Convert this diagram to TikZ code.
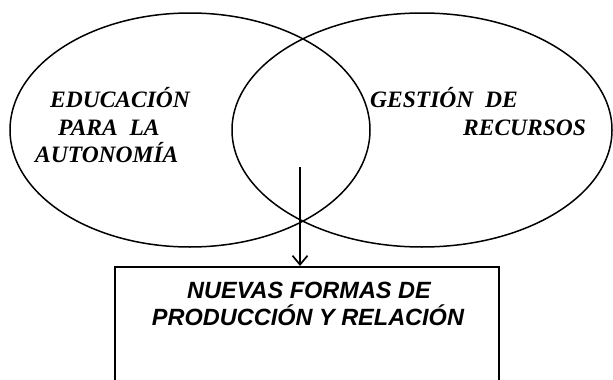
\documentclass[tikz,border=0pt]{standalone}
\usepackage{fontspec}
\usepackage{tikz}
\usetikzlibrary{shapes.geometric, arrows.meta}
\newfontfamily\serifbi{Liberation Serif}
\newfontfamily\sansbi{Liberation Sans}

\begin{document}
\begin{tikzpicture}[
  x=1pt, y=-1pt,
  setellipse/.style={draw, ellipse, line width=1.5pt, inner sep=0pt},
  setlabel/.style={anchor=base west, inner sep=0pt, font=\serifbi\bfseries\itshape\fontsize{23.5}{27}\selectfont},
  boxlabel/.style={anchor=base, inner sep=0pt, font=\sansbi\bfseries\itshape\fontsize{23.5}{27}\selectfont},
  resultbox/.style={draw, line width=1.7pt, minimum width=384pt, minimum height=130pt, anchor=north}
]
\clip (0,0) rectangle (613,380);
% two sets
\node[setellipse, minimum width=360pt, minimum height=234pt] (educ) at (190,130) {};
\node[setellipse, minimum width=380pt, minimum height=234pt] (gest) at (422,130) {};
\node[setlabel] (educ1) at (50,107) {EDUCACIÓN};
\node[setlabel] (educ2) at (58,135) {PARA\ \ LA};
\node[setlabel] (educ3) at (35,162) {AUTONOMÍA};
\node[setlabel] (gest1) at (370,107) {GESTIÓN\ \ DE};
\node[setlabel] (gest2) at (463,135) {RECURSOS};
% result
\node[resultbox] (nuevas) at (307,266) {};
\node[boxlabel] (nuevas1) at (309,298) {NUEVAS FORMAS DE};
\node[boxlabel] (nuevas2) at (308,325) {PRODUCCIÓN Y RELACIÓN};
\coordinate (inter) at (300,167);
\draw[line width=1.7pt, -{Straight Barb[length=9pt, width=15pt, line width=1.7pt]}] (inter) -- (inter |- nuevas.north);
\end{tikzpicture}
\end{document}
